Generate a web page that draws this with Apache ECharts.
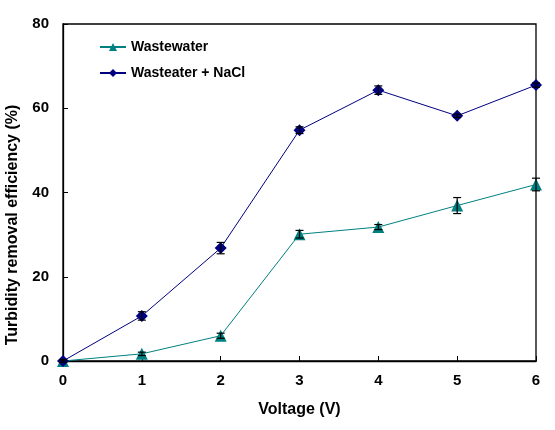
<!DOCTYPE html>
<html><head><meta charset="utf-8">
<script src="https://cdn.jsdelivr.net/npm/echarts@6/dist/echarts.min.js"></script>
<style>html,body{margin:0;padding:0;background:#fff}#c{width:555px;height:430px}</style>
</head><body><div id="c"></div>
<script>
var voltage = [0, 1, 2, 3, 4, 5, 6];
var wastewater = [0, 1.7, 6.0, 30.1, 31.8, 36.9, 41.9];
var wastewaterErr = [0.3, 0.4, 0.6, 0.9, 0.6, 1.9, 1.5];
var nacl = [0, 10.7, 26.8, 54.8, 64.3, 58.2, 65.5];
var naclErr = [0.3, 1.0, 1.35, 0.8, 1.0, 0.4, 0.5];
var seriesNames = ['Wastewater', 'Wasteater + NaCl'];
var xTitle = 'Voltage (V)';
var yTitle = 'Turbidity removal efficiency (%)';

function pairs(ys) { return voltage.map(function (x, i) { return [x, ys[i]]; }); }
function errData(ys, es) { return voltage.map(function (x, i) { return [x, ys[i] - es[i], ys[i] + es[i]]; }); }
function errSeries(ys, es) {
  return {
    type: 'custom', silent: true, z: 5,
    data: errData(ys, es),
    renderItem: function (params, api) {
      var lo = api.coord([api.value(0), api.value(1)]);
      var hi = api.coord([api.value(0), api.value(2)]);
      var w = 4;
      var st = { stroke: '#000', lineWidth: 1.2 };
      return { type: 'group', children: [
        { type: 'line', shape: { x1: lo[0], y1: lo[1], x2: hi[0], y2: hi[1] }, style: st },
        { type: 'line', shape: { x1: lo[0] - w, y1: lo[1], x2: lo[0] + w, y2: lo[1] }, style: st },
        { type: 'line', shape: { x1: hi[0] - w, y1: hi[1], x2: hi[0] + w, y2: hi[1] }, style: st }
      ]};
    }
  };
}

var font = 'Liberation Sans, Arial, sans-serif';
var chart = echarts.init(document.getElementById('c'), null, { renderer: 'canvas' });
chart.setOption({
  animation: false,
  backgroundColor: '#fff',
  grid: { left: 63, top: 24, right: 19, bottom: 69, show: true, borderColor: '#000', borderWidth: 1.3 },
  legend: {
    orient: 'vertical', left: 99, top: 40, padding: 0, itemGap: 12, itemWidth: 26, itemHeight: 10,
    data: seriesNames,
    textStyle: { fontFamily: font, fontWeight: 'bold', fontSize: 14, color: '#000' }
  },
  graphic: [{
    type: 'text', x: 13, y: 225, rotation: Math.PI / 2,
    style: { text: yTitle, align: 'center', verticalAlign: 'middle',
      font: 'bold 16px ' + font, fill: '#000' }
  }],
  xAxis: {
    type: 'value', min: 0, max: 6, interval: 1,
    name: xTitle, nameLocation: 'middle', nameGap: 41,
    nameTextStyle: { fontFamily: font, fontWeight: 'bold', fontSize: 16, color: '#000' },
    axisLine: { lineStyle: { color: '#000', width: 1.3 } },
    axisTick: { inside: true, length: 5, lineStyle: { color: '#000' } },
    axisLabel: { fontFamily: font, fontWeight: 'bold', fontSize: 15, color: '#000', margin: 12 },
    splitLine: { show: false }
  },
  yAxis: {
    type: 'value', min: 0, max: 80, interval: 20,
    axisLine: { show: true, lineStyle: { color: '#000', width: 1.3 } },
    axisTick: { show: true, inside: true, length: 5, lineStyle: { color: '#000' } },
    axisLabel: { fontFamily: font, fontWeight: 'bold', fontSize: 15, color: '#000', margin: 14 },
    splitLine: { show: false }
  },
  series: [
    { name: seriesNames[0], type: 'line', data: pairs(wastewater), z: 3,
      symbol: 'triangle', symbolSize: 12, color: '#008080',
      lineStyle: { width: 1, color: '#008080' }, itemStyle: { color: '#008080' } },
    { name: seriesNames[1], type: 'line', data: pairs(nacl), z: 3,
      symbol: 'diamond', symbolSize: 12, color: '#000080',
      lineStyle: { width: 1, color: '#000080' }, itemStyle: { color: '#000080' } },
    errSeries(wastewater, wastewaterErr),
    errSeries(nacl, naclErr)
  ]
});
</script></body></html>
